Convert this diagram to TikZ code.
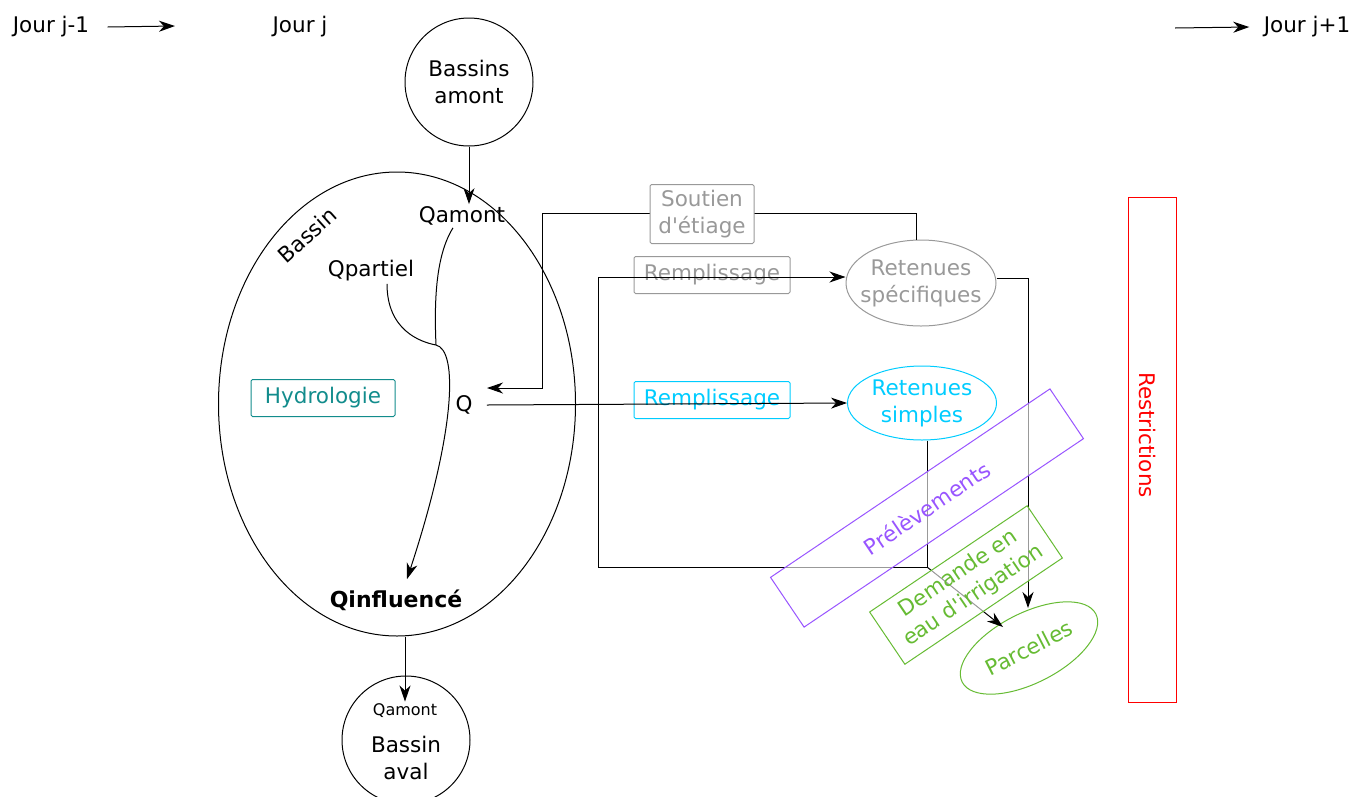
\documentclass[tikz,border=0pt]{standalone}
\usepackage{fontspec}
\setmainfont{DejaVu Sans}
\usepackage{xcolor}
\usetikzlibrary{arrows.meta,shapes.geometric}
\definecolor{gris}{HTML}{999999}
\definecolor{bleu}{HTML}{00CCFF}
\definecolor{canard}{HTML}{128C8C}
\definecolor{mauve}{HTML}{9955FF}
\definecolor{vert}{HTML}{66BB33}

\begin{document}
\begin{tikzpicture}[x=1pt,y=-1pt,line width=1pt,inner sep=2pt,
  font=\fontsize{21.5}{27}\selectfont,
  arr/.style={-{Stealth[length=16pt,width=11pt,inset=5pt]}},
  rond/.style={circle,draw,minimum size=128pt,inner sep=0pt,align=center},
  ell/.style={ellipse,draw,inner sep=0pt},
  boite/.style={draw,rounded corners=1.5pt,inner sep=0pt},
  penche/.style={draw,rotate=34,fill=white,fill opacity=0.6,text opacity=1,align=center,inner sep=0pt}]
\useasboundingbox (0,0) rectangle (1355,796);
% jours
\node (jm) at (51,27) {Jour j-1};
\node (jo) at (300,27) {Jour j};
\node (jp) at (1307,27) {Jour j+1};
\coordinate (tm) at (175,26);
\coordinate (tp) at (1175,28);
\draw[arr] ([xshift=16pt]jm.east) -- (tm);
\draw[arr] (tp) -- ([xshift=-12pt]jp.west);
% bassin
\node[rond] (amont) at (469,82) {Bassins\\amont};
\node[ell,minimum width=357pt,minimum height=464pt] (bassin) at (397,404) {};
\node[rotate=42] (nom) at (307,235) {Bassin};
\node (qamont) at (462,216) {Qamont};
\node (qpart) at (371,271) {Qpartiel};
\node[boite,draw=canard,text=canard,minimum width=144pt,minimum height=37pt] (hydro) at (323,398) {Hydrologie};
\node (q) at (464,405) {Q};
\node[font=\fontsize{22}{27}\selectfont\bfseries] (qinf) at (396,600) {Qinfluencé};
\node[rond] (aval) at (406,740) {};
\node[font=\fontsize{16}{19}\selectfont] (qaval) at (405,711) {Qamont};
\node[align=center] (avaltxt) at (406,758) {Bassin\\aval};
\coordinate (jn) at (436,345);
\draw[arr] (amont.south) -- (amont.south |- qamont.north);
\draw ([xshift=-9pt]qamont.south) .. controls (436,255) and (434,300) .. (jn);
\draw ([xshift=16pt]qpart.south) .. controls (387,330) and (420,342) .. (jn);
\draw[arr] (jn) .. controls (458,350) and (456,430) .. ([xshift=11pt,yshift=8pt]qinf.north);
\draw[arr] (qaval.north |- bassin.south) -- (qaval.north);
% retenues
\node[boite,draw=gris,text=gris,minimum width=156pt,minimum height=37pt] (rempg) at (712,275) {Remplissage};
\node[boite,draw=bleu,text=bleu,minimum width=156pt,minimum height=37pt] (rempb) at (712,400) {Remplissage};
\node[ell,draw=gris,minimum width=150pt,minimum height=86pt,
  label={[gris,align=center]center:Retenues\\spécifiques}] (rspec) at (921,283) {};
\node[ell,draw=bleu,minimum width=149pt,minimum height=74pt,
  label={[bleu,align=center]center:Retenues\\simples}] (rsimp) at (922,403) {};
\node[ell,draw=vert,text=vert,rotate=27,minimum width=150pt,minimum height=70pt] (parc) at (1029,648) {Parcelles};
\coordinate (cs) at (542,213);
\coordinate (qin) at (487,388);
\coordinate (cc) at (927,567);
\coordinate (cb) at (598,567);
\coordinate (pa) at (1028,608);
\coordinate (pb) at (1003,627);
\draw[arr] ([xshift=-5pt]rspec.north) |- (cs) |- (qin);
\draw[arr] ([xshift=12pt]q.east) -- (rsimp.west);
\draw[arr] ([xshift=5pt]rsimp.south) -- (cc) -- (cb) |- ([yshift=6pt]rspec.west);
\draw[arr] ([yshift=5pt]rspec.east) -| (pa);
\draw[arr] (cc) -- (pb);
\node[boite,draw=gris,text=gris,fill=white,minimum width=104pt,minimum height=59pt,align=center] (soutien) at (702,214) {Soutien\\d\textquotesingle étiage};
% usages
\node[penche,draw=mauve,text=mauve,minimum width=337pt,minimum height=60pt] (prel) at (927,508) {Prélèvements};
\node[penche,draw=vert,text=vert,minimum width=190pt,minimum height=63pt] (demande) at (966,585) {Demande en\\eau d\textquotesingle irrigation};
\node[draw=red,minimum width=48pt,minimum height=505pt] (restr) at (1152,450) {};
\node[red,rotate=-90] (restrtxt) at (1148,435) {Restrictions};
\end{tikzpicture}
\end{document}
